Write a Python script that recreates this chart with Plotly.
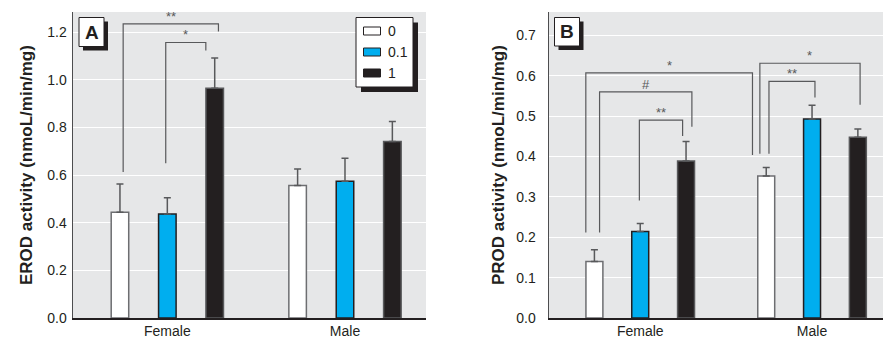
import plotly.graph_objects as go

# ---------------- data ----------------
groups = ["Female", "Male"]
dose_labels = ["0", "0.1", "1"]

erod_means = {"0": [0.444, 0.556], "0.1": [0.437, 0.574], "1": [0.965, 0.741]}
erod_err = {"0": [0.119, 0.070], "0.1": [0.068, 0.097], "1": [0.127, 0.084]}

prod_means = {"0": [0.140, 0.352], "0.1": [0.214, 0.493], "1": [0.389, 0.448]}
prod_err = {"0": [0.029, 0.021], "0.1": [0.020, 0.034], "1": [0.048, 0.020]}

erod_ticks = [0.0, 0.2, 0.4, 0.6, 0.8, 1.0, 1.2]
prod_ticks = [0.0, 0.1, 0.2, 0.3, 0.4, 0.5, 0.6, 0.7]

# significance brackets: (group1, dose1, nudge1, group2, dose2, nudge2, y_top, y_bottom1, y_bottom2, label)
brackets_A = [
    (0, 0, 0.018, 0, 2, 0.021, 1.235, 0.613, 1.203, "**"),
    (0, 1, -0.009, 0, 2, -0.050, 1.157, 0.650, 1.123, "*"),
]
brackets_B = [
    (0, 0, -0.050, 1, 0, -0.080, 0.607, 0.212, 0.404, "*"),
    (0, 0, 0.030, 0, 2, 0.034, 0.560, 0.212, 0.474, "#"),
    (0, 1, -0.005, 0, 2, -0.020, 0.490, 0.291, 0.451, "**"),
    (1, 0, -0.037, 1, 2, 0.013, 0.631, 0.407, 0.528, "*"),
    (1, 0, 0.016, 1, 1, 0.017, 0.586, 0.407, 0.546, "**"),
]

# ---------------- style ----------------
W, H = 883, 339
FONT = "Liberation Sans Narrow, Arial Narrow, Liberation Sans, sans-serif"
TXT = "#231f20"
fills = {"0": "#ffffff", "0.1": "#00aeef", "1": "#231f20"}
edges = {"0": "#6d6e71", "0.1": "#231f20", "1": "#58595b"}
BG = "#e6e7e8"
BRK = "#58595b"

BARGAP = 0.2
SLOT = (1 - BARGAP) / 3


def px(x):
    return x / W


def py(y):
    return 1 - y / H


fig = go.Figure()

for panel, means, errs in (("A", erod_means, erod_err), ("B", prod_means, prod_err)):
    xa = "x" if panel == "A" else "x2"
    ya = "y" if panel == "A" else "y2"
    for d in dose_labels:
        fig.add_trace(go.Bar(
            x=groups, y=means[d], name=d, xaxis=xa, yaxis=ya,
            marker=dict(color=fills[d], line=dict(color=edges[d], width=1.5)),
            error_y=dict(type="data", array=errs[d], arrayminus=[0] * len(groups),
                         symmetric=False, color="#58595b", thickness=1.5, width=3.5),
            showlegend=False, hoverinfo="skip",
        ))

shapes = []
annotations = []


def add_brackets(brs, xref, yref):
    for g1, d1, n1, g2, d2, n2, yt, yb1, yb2, lab in brs:
        x1 = g1 + (d1 - 1) * SLOT + n1
        x2 = g2 + (d2 - 1) * SLOT + n2
        path = f"M {x1},{yb1} L {x1},{yt} L {x2},{yt} L {x2},{yb2}"
        shapes.append(dict(type="path", path=path, xref=xref, yref=yref,
                           line=dict(color=BRK, width=1.2), layer="above"))
        annotations.append(dict(x=(x1 + x2) / 2, y=yt, xref=xref, yref=yref,
                                text=lab, showarrow=False, yanchor="bottom",
                                yshift=-2, font=dict(family=FONT, size=13, color=BRK)))


add_brackets(brackets_A, "x", "y")
add_brackets(brackets_B, "x2", "y2")


def label_box(x0, y0, x1, y1, text, shadow=4, fsize=19):
    shapes.append(dict(type="rect", xref="paper", yref="paper",
                       x0=px(x0 + shadow), x1=px(x1 + shadow), y0=py(y1 + shadow), y1=py(y0 + shadow),
                       fillcolor=TXT, line=dict(width=0), layer="above"))
    shapes.append(dict(type="rect", xref="paper", yref="paper",
                       x0=px(x0), x1=px(x1), y0=py(y1), y1=py(y0),
                       fillcolor="white", line=dict(color=TXT, width=1), layer="above"))
    annotations.append(dict(x=px((x0 + x1) / 2), y=py((y0 + y1) / 2), xref="paper", yref="paper",
                            text=f"<b>{text}</b>", showarrow=False, xanchor="center", yanchor="middle",
                            font=dict(family="Liberation Sans, Arial, sans-serif", size=fsize, color=TXT)))


label_box(79, 17.5, 104, 46.5, "A")
label_box(554.5, 17.5, 579.5, 46, "B")

# manual legend (panel A)
lx0, ly0, lx1, ly1 = 356, 17.5, 413, 87
shapes.append(dict(type="rect", xref="paper", yref="paper",
                   x0=px(lx0 + 5), x1=px(lx1 + 5), y0=py(ly1 + 5), y1=py(ly0 + 5),
                   fillcolor=TXT, line=dict(width=0), layer="above"))
shapes.append(dict(type="rect", xref="paper", yref="paper",
                   x0=px(lx0), x1=px(lx1), y0=py(ly1), y1=py(ly0),
                   fillcolor="white", line=dict(color=TXT, width=1), layer="above"))
for i, d in enumerate(dose_labels):
    cy = 31 + i * 21
    shapes.append(dict(type="rect", xref="paper", yref="paper",
                       x0=px(363.5), x1=px(380.5), y0=py(cy + 4), y1=py(cy - 4),
                       fillcolor=fills[d], line=dict(color=TXT, width=1), layer="above"))
    annotations.append(dict(x=px(386), y=py(cy), xref="paper", yref="paper", text=d,
                            showarrow=False, xanchor="left", yanchor="middle",
                            font=dict(family=FONT, size=14, color=TXT)))

# y-axis titles
annotations.append(dict(x=px(26), y=py(165), xref="paper", yref="paper",
                        text="<b>EROD activity (nmoL/min/mg)</b>", textangle=-90, showarrow=False,
                        xanchor="center", yanchor="middle", font=dict(family=FONT, size=17, color=TXT)))
annotations.append(dict(x=px(498), y=py(165), xref="paper", yref="paper",
                        text="<b>PROD activity (nmoL/min/mg)</b>", textangle=-90, showarrow=False,
                        xanchor="center", yanchor="middle", font=dict(family=FONT, size=17, color=TXT)))

ydom = [py(318), py(12)]
common_x = dict(type="category", showgrid=False, showline=True, linecolor=TXT, linewidth=1.5,
                ticks="", tickfont=dict(family=FONT, size=14, color=TXT), zeroline=False,
                fixedrange=True, automargin=False)
common_y = dict(showgrid=True, gridcolor="white", gridwidth=1, showline=True, linecolor="#4d4d4f",
                linewidth=1.5, ticks="", tickfont=dict(family=FONT, size=14, color=TXT),
                zeroline=False, tickformat=".1f", automargin=False, fixedrange=True)

fig.update_layout(
    template="none",
    width=W, height=H,
    margin=dict(l=0, r=0, t=0, b=0, pad=0),
    paper_bgcolor="white", plot_bgcolor=BG,
    barmode="group", bargap=BARGAP, bargroupgap=0.63,
    showlegend=False, hovermode=False,
    xaxis=dict(common_x, domain=[px(73), px(426)], range=[-0.531, 1.456], anchor="y"),
    yaxis=dict(common_y, domain=ydom, range=[0, 1.285], tickvals=erod_ticks, anchor="x",
               ticklabelstandoff=2),
    xaxis2=dict(common_x, domain=[px(549), 1.0], range=[-0.531, 1.413], anchor="y2"),
    yaxis2=dict(common_y, domain=ydom, range=[0, 0.758], tickvals=prod_ticks, anchor="x2",
                ticklabelstandoff=9),
    shapes=shapes, annotations=annotations,
)

fig.write_html("out.html", config={"displayModeBar": False, "staticPlot": True},
               post_script="document.body.style.margin='0';document.body.style.padding='0';")
